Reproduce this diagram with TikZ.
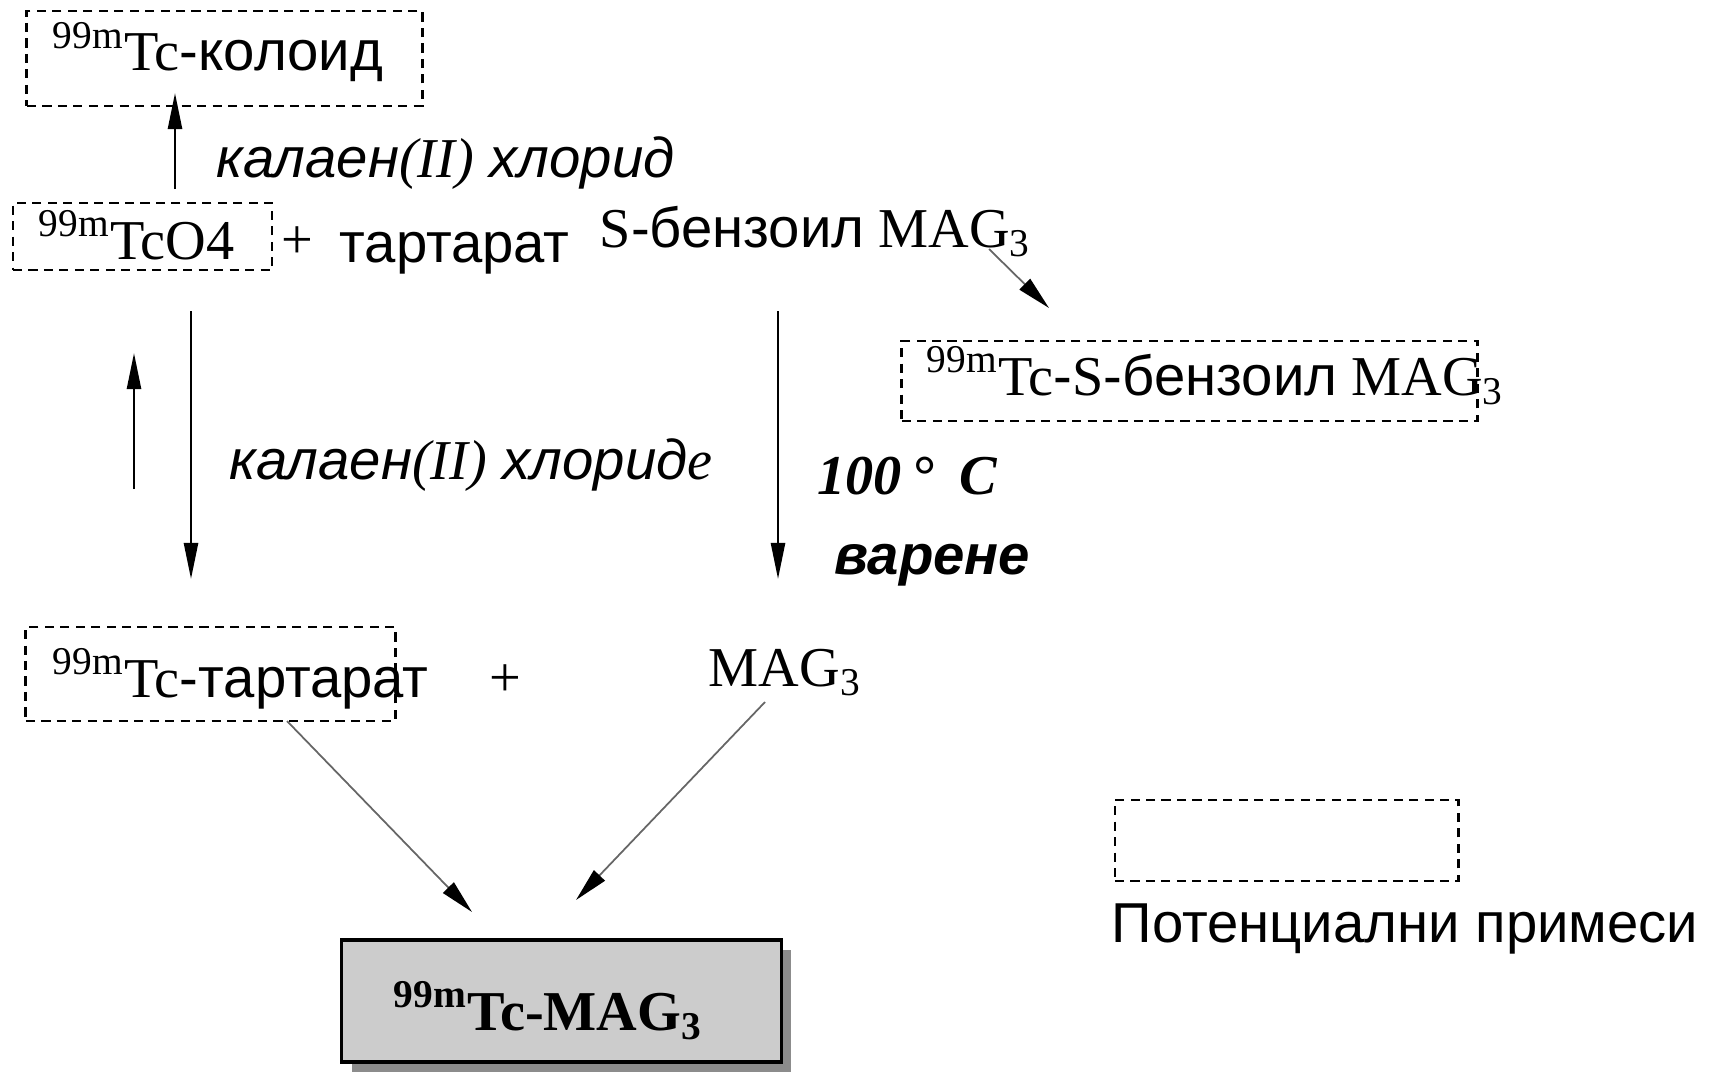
\documentclass[tikz,border=0pt]{standalone}
\usepackage{fontspec}
\setmainfont{Liberation Serif}
\setsansfont{Liberation Sans}
\usetikzlibrary{arrows.meta,shadows}
\newcommand\tcm{\textsuperscript{99m}Tc}
\tikzset{
    impurity box/.style={
        draw,line width=0.8pt,
        dash pattern=on 2.6pt off 1.8pt,
        inner sep=0pt
    },
    product box/.style={
        draw,line width=0.9pt,fill=black!20,inner sep=0pt,
        drop shadow={shadow xshift=0.1cm,shadow yshift=-0.1cm,
            fill=black!45,opacity=1}
    },
    chem/.style={font=\fontsize{16}{19}\selectfont,inner sep=0pt},
    cond/.style={font=\sffamily\itshape\fontsize{16}{19}\selectfont,inner sep=0pt},
    >={Triangle[length=0.36cm,width=0.14cm]},
    step arrow/.style={->,line width=0.7pt},
    side arrow/.style={-{Triangle[length=0.34cm,width=0.15cm,color=black]},
        draw=black!60,line width=0.5pt},
}
\begin{document}
\begin{tikzpicture}[x=0.01cm,y=-0.01cm]
                \useasboundingbox (0,0) rectangle (1713,1073);
                % dashed boxes: potential impurities
                \foreach \name/\x/\y/\w/\h in {colloidbox/224.5/58.5/3.95/0.95,
                    pertechbox/142.5/236.5/2.59/0.67,
                    sbzbox/1189.5/381/5.75/0.80,
                    tartbox/210.5/674/3.69/0.94,
                    legendbox/1286.5/840.5/3.43/0.81}
                \node[impurity box,minimum width=\w cm,minimum height=\h cm] (\name) at (\x,\y) {};
                \node[product box,minimum width=4.39cm,minimum height=1.22cm] (productbox) at (561.5,1001) {};
                % texts
                \node[chem,anchor=base west] (colloid) at (52,71) {\tcm{\sffamily -колоид}};
                \node[chem,anchor=base west] (pertech) at (38,259) {\tcm O4};
                \node[chem] (plus1) at (297,243) {+};
                \node[chem,anchor=base west] (tartrate) at (339,262) {\sffamily тартарат};
                \node[chem,anchor=base west] (sbzmag) at (599,247) {S{\sffamily -бензоил} MAG\textsubscript{3}};
                \node[cond,anchor=base west] (tin1) at (216,178) {калаен{\rmfamily\itshape(II)} хлорид};
                \node[chem,anchor=base west] (tcsbz) at (926,395) {\tcm{\sffamily -}S{\sffamily -бензоил} MAG\textsubscript{3}};
                \node[cond,anchor=base west] (tin2) at (229,479) {калаен{\rmfamily\itshape(II)} хлорид{\rmfamily\itshape е}};
                \node[chem,anchor=base west,font=\fontsize{16}{19}\selectfont\bfseries\itshape] (temp) at (817,494) {100\,°\;\,C};
                \node[cond,anchor=base west,font=\sffamily\bfseries\itshape\fontsize{16}{19}\selectfont] (boil) at (834,574) {варене};
                \node[chem,anchor=base west] (tctart) at (52,697) {\tcm{\sffamily -тартарат}};
                \node[chem] (plus2) at (505,681) {+};
                \node[chem,anchor=base west] (mag) at (708,686) {MAG\textsubscript{3}};
                \node[chem,anchor=base west,font=\fontsize{16}{19}\selectfont\bfseries] (product) at (393,1030) {\tcm-MAG\textsubscript{3}};
                \node[chem,anchor=base west,font=\sffamily\fontsize{16}{19}\selectfont] (legend) at (1111,942) {Потенциални примеси};
                % arrow ends
                \coordinate (a1) at (175,189);  \coordinate (b1) at (175,93);
                \coordinate (a2) at (989,249);  \coordinate (b2) at (1049,308);
                \coordinate (a3) at (191,311);  \coordinate (b3) at (191,579);
                \coordinate (a4) at (134,489);  \coordinate (b4) at (134,353);
                \coordinate (a5) at (778,311);  \coordinate (b5) at (778,579);
                \coordinate (a6) at (287,721);  \coordinate (b6) at (472,912);
                \coordinate (a7) at (765,702);  \coordinate (b7) at (576,900);
                \foreach \i in {1,3,4,5}
                \draw[step arrow] (a\i) -- (b\i);
                \foreach \i in {2,6,7}
                \draw[side arrow] (a\i) -- (b\i);
            \end{tikzpicture}
\end{document}
